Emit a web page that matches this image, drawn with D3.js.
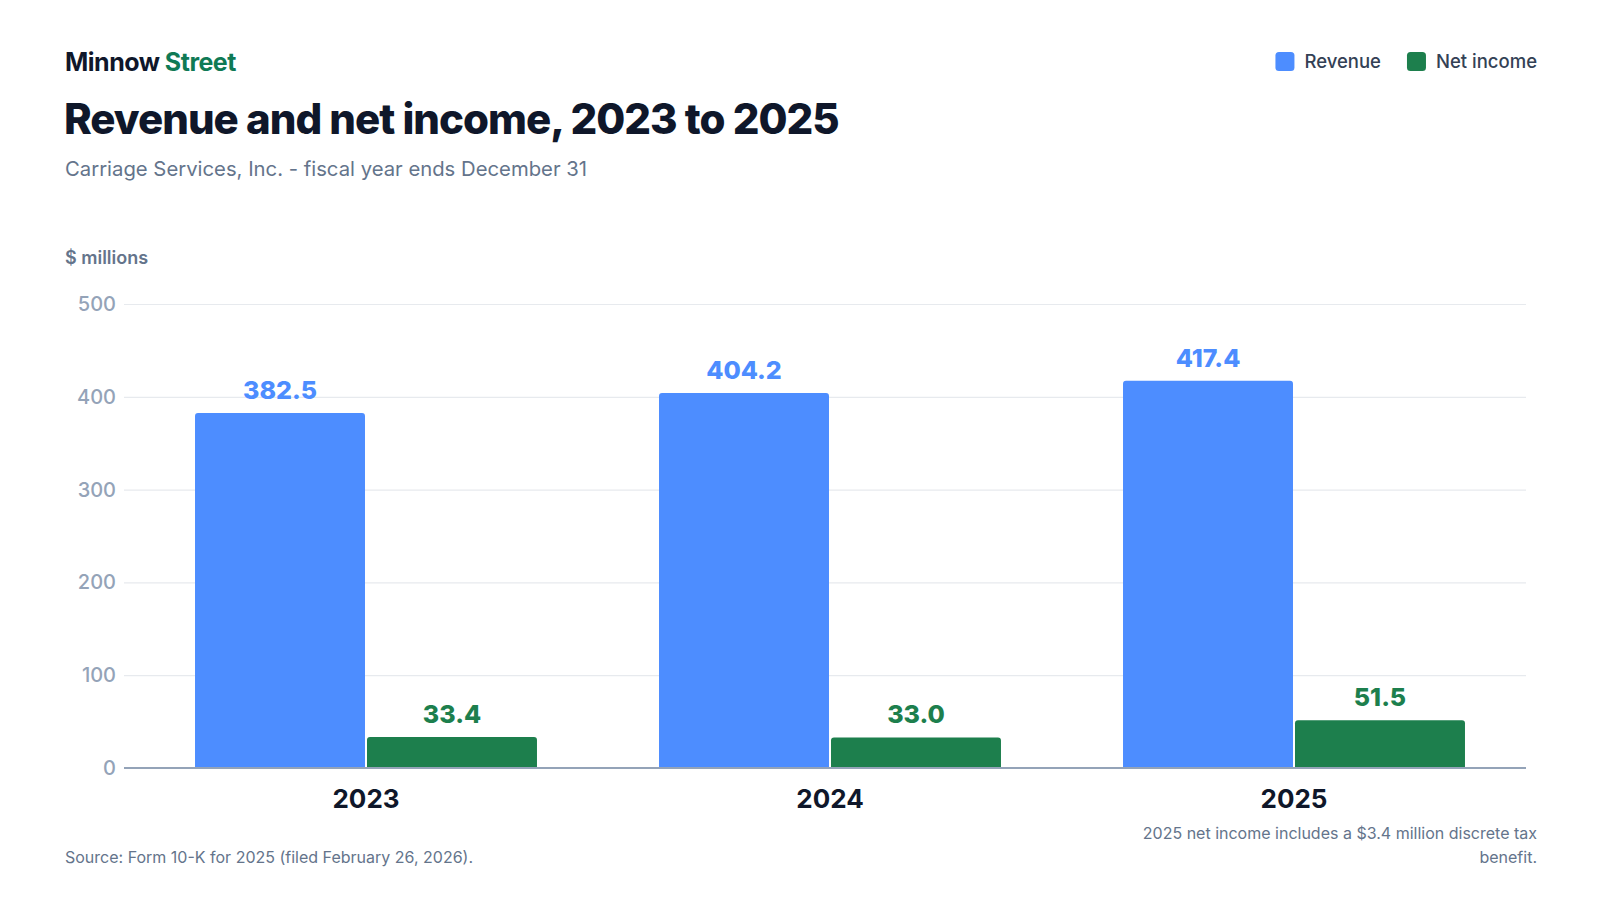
<!DOCTYPE html>
<html>
<head>
<meta charset="utf-8">
<script src="https://cdn.jsdelivr.net/npm/d3@7"></script>
<style>
  html, body { margin: 0; padding: 0; background: #ffffff; }
  svg text { font-family: Inter, "Noto Sans", sans-serif; }
</style>
</head>
<body>
<div id="chart"></div>
<script>
// data
const years = ['2023', '2024', '2025'];
const seriesNames = ['Revenue', 'Net income'];
const revenue = [382.5, 404.2, 417.4];
const netIncome = [33.4, 33.0, 51.5];
const yTicks = [0, 100, 200, 300, 400, 500];
const seriesColors = ['#4d8dff', '#1d7f4d'];

const width = 1600;
const height = 900;
// plot area
const plotLeft = 124;
const plotRight = 1526;
const plotTop = 304;
const plotBottom = 768;

const svg = d3.select('#chart')
  .append('svg')
  .attr('width', width)
  .attr('height', height)
  .style('display', 'block')
  .style('background', '#ffffff');

// header
const brand = svg.append('text')
  .attr('x', 65)
  .attr('y', 71)
  .style('font-size', '25px')
  .style('font-weight', 700)
  .style('letter-spacing', '-0.5px');
brand.append('tspan').attr('fill', '#0f172a').text('Minnow ');
brand.append('tspan').attr('fill', '#0f7a55').text('Street');

svg.append('text')
  .attr('x', 64)
  .attr('y', 134)
  .attr('fill', '#0f172a')
  .style('font-size', '42px')
  .style('font-weight', 800)
  .style('letter-spacing', '-1px')
  .text('Revenue and net income, 2023 to 2025');

svg.append('text')
  .attr('x', 65)
  .attr('y', 176)
  .attr('fill', '#64748b')
  .style('font-size', '20.3px')
  .text('Carriage Services, Inc. - fiscal year ends December 31');

svg.append('text')
  .attr('x', 65)
  .attr('y', 264)
  .attr('fill', '#64748b')
  .style('font-size', '18px')
  .style('font-weight', 600)
  .text('$ millions');

// legend, right aligned
const legend = svg.append('g');
let lx = 1537;
for (let i = seriesNames.length - 1; i >= 0; i--) {
  const t = legend.append('text')
    .attr('x', lx)
    .attr('y', 68)
    .attr('text-anchor', 'end')
    .attr('fill', '#334155')
    .style('font-size', '18.5px')
    .style('font-weight', 500)
    .text(seriesNames[i]);
  const w = t.node().getComputedTextLength();
  legend.append('rect')
    .attr('x', lx - w - 10 - 19)
    .attr('y', 52)
    .attr('width', 19)
    .attr('height', 19)
    .attr('rx', 3.5)
    .attr('fill', seriesColors[i]);
  lx = lx - w - 10 - 19 - 26;
}

// scales
const x0 = d3.scaleBand()
  .domain(years)
  .range([plotLeft + 10, plotRight])
  .paddingInner(0.263)
  .paddingOuter(0.1315);

const x1 = d3.scaleBand()
  .domain(seriesNames)
  .range([0, x0.bandwidth()])
  .paddingInner(0.0117);

const y = d3.scaleLinear()
  .domain([0, 500])
  .range([plotBottom, plotTop]);

// gridlines + y labels
const yAxis = d3.axisLeft(y)
  .tickValues(yTicks)
  .tickSize(-(plotRight - plotLeft))
  .tickPadding(8);

const yg = svg.append('g')
  .attr('transform', `translate(${plotLeft},0)`)
  .call(yAxis);
yg.select('.domain').remove();
yg.selectAll('.tick line')
  .attr('stroke', '#e7eaee')
  .attr('stroke-width', 1.2);
yg.selectAll('.tick text')
  .attr('fill', '#94a3b8')
  .style('font-size', '20px')
  .style('font-weight', 500)
  .style('font-family', 'Inter, sans-serif');

// bars
const rows = years.map((yr, i) => ({
  year: yr,
  values: [
    { key: seriesNames[0], value: revenue[i], color: seriesColors[0] },
    { key: seriesNames[1], value: netIncome[i], color: seriesColors[1] }
  ]
}));

// rounded top corners only
function topRoundedRect (x, yTop, w, h, r) {
  r = Math.min(r, h, w / 2);
  return `M${x},${yTop + h}V${yTop + r}Q${x},${yTop} ${x + r},${yTop}` +
    `H${x + w - r}Q${x + w},${yTop} ${x + w},${yTop + r}V${yTop + h}Z`;
}

const groups = svg.append('g')
  .selectAll('g')
  .data(rows)
  .join('g')
  .attr('transform', d => `translate(${x0(d.year)},0)`);

groups.selectAll('path')
  .data(d => d.values)
  .join('path')
  .attr('d', d => topRoundedRect(
    x1(d.key), y(d.value), x1.bandwidth(), y(0) - y(d.value), 3))
  .attr('fill', d => d.color);

groups.selectAll('text.val')
  .data(d => d.values)
  .join('text')
  .attr('class', 'val')
  .attr('x', d => x1(d.key) + x1.bandwidth() / 2)
  .attr('y', d => y(d.value) - 14)
  .attr('text-anchor', 'middle')
  .attr('fill', d => d.color)
  .style('font-size', '25px')
  .style('font-weight', 800)
  .text(d => d3.format('.1f')(d.value));

// x axis baseline
svg.append('line')
  .attr('x1', plotLeft)
  .attr('x2', plotRight)
  .attr('y1', y(0))
  .attr('y2', y(0))
  .attr('stroke', '#94a3b8')
  .attr('stroke-width', 2);

// year labels
const xAxis = d3.axisBottom(x0).tickSize(0).tickPadding(0);
const xg = svg.append('g')
  .attr('transform', `translate(0,${plotBottom})`)
  .call(xAxis);
xg.select('.domain').remove();
xg.selectAll('.tick text')
  .attr('dy', 0)
  .attr('y', 40)
  .attr('fill', '#0f172a')
  .style('font-size', '26px')
  .style('font-weight', 700)
  .style('font-family', 'Inter, sans-serif');

// footer
svg.append('text')
  .attr('x', 65)
  .attr('y', 863)
  .attr('fill', '#64748b')
  .style('font-size', '16px')
  .text('Source: Form 10-K for 2025 (filed February 26, 2026).');

const noteLines = ['2025 net income includes a $3.4 million discrete tax', 'benefit.'];
svg.append('g')
  .selectAll('text')
  .data(noteLines)
  .join('text')
  .attr('x', 1537)
  .attr('y', (d, i) => 839 + i * 24)
  .attr('text-anchor', 'end')
  .attr('fill', '#64748b')
  .style('font-size', '16px')
  .text(d => d);
</script>
</body>
</html>
